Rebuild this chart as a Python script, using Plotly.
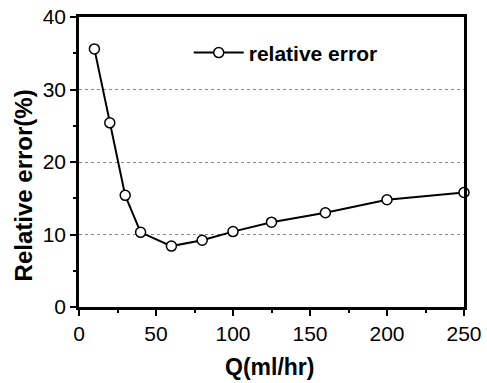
import plotly.graph_objects as go

# Data
flow_rate = [10, 20, 30, 40, 60, 80, 100, 125, 160, 200, 250]
relative_error = [35.6, 25.4, 15.4, 10.3, 8.4, 9.2, 10.4, 11.7, 13.0, 14.8, 15.8]

x_ticks = [0, 50, 100, 150, 200, 250]
y_ticks = [0, 10, 20, 30, 40]

FONT = "Liberation Sans, Arial, sans-serif"

fig = go.Figure()
fig.add_trace(go.Scatter(
    x=flow_rate, y=relative_error, mode="lines+markers",
    name="<b>relative error</b>",
    line=dict(color="black", width=2),
    marker=dict(symbol="circle", size=10, color="white",
                line=dict(color="black", width=1.5)),
    cliponaxis=False,
))

fig.update_layout(
    width=487, height=383,
    margin=dict(l=79, r=23, t=17, b=76, autoexpand=False),
    paper_bgcolor="white", plot_bgcolor="white",
    font=dict(family=FONT, color="black", size=21),
    showlegend=True,
    legend=dict(x=0.285, y=0.876, xanchor="left", yanchor="middle",
                bgcolor="rgba(0,0,0,0)", borderwidth=0,
                font=dict(family=FONT, size=21, color="black"),
                itemwidth=50),
    xaxis=dict(range=[0, 250], tickvals=x_ticks, ticktext=[str(v) for v in x_ticks],
               showline=True, linecolor="black", linewidth=2.5, mirror=True,
               ticks="outside", ticklen=6, tickwidth=2, tickcolor="black",
               minor=dict(ticks="outside", ticklen=3, tickwidth=1.5, tickcolor="black",
                          dtick=25, tick0=0, showgrid=False),
               showgrid=False, zeroline=False, automargin=False,
               tickfont=dict(family=FONT, size=21, color="black")),
    yaxis=dict(range=[0, 40], tickvals=y_ticks, ticktext=[str(v) for v in y_ticks],
               showline=True, linecolor="black", linewidth=2.5, mirror=True,
               ticks="outside", ticklen=6, tickwidth=2, tickcolor="black",
               minor=dict(ticks="outside", ticklen=3, tickwidth=1.5, tickcolor="black",
                          dtick=5, tick0=0, showgrid=False),
               showgrid=True, gridcolor="#8a8a8a", gridwidth=1, griddash="dot",
               zeroline=False, automargin=False,
               tickfont=dict(family=FONT, size=21, color="black")),
    annotations=[
        dict(text="<b>Q(ml/hr)</b>", xref="paper", yref="paper",
             x=0.496, y=-0.207, xanchor="center", yanchor="middle",
             showarrow=False, font=dict(family=FONT, size=23, color="black")),
        dict(text="<b>Relative error(%)</b>", xref="paper", yref="paper",
             x=-0.143, y=0.419, xanchor="center", yanchor="middle", textangle=-90,
             showarrow=False, font=dict(family=FONT, size=24, color="black")),
    ],
)

fig.write_html("out.html", config={"displayModeBar": False},
               post_script="document.body.style.margin='0';document.body.style.overflow='hidden';")
